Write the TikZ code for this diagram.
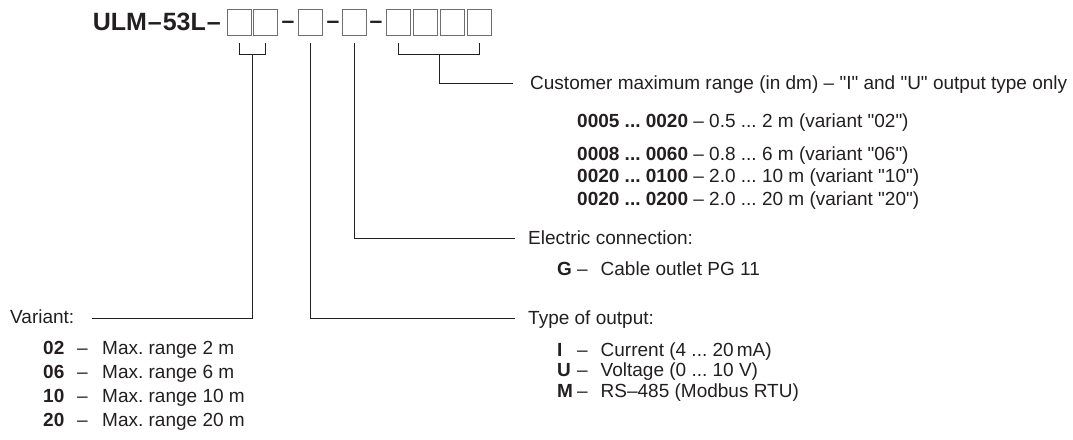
\documentclass[tikz,border=0pt]{standalone}
\usepackage{fontspec}
\usetikzlibrary{calc}
\setmainfont{Liberation Sans}
\definecolor{ink}{HTML}{231F20}
\definecolor{boxgray}{HTML}{6D6E71}
\newcommand{\qq}[1]{\textquotedbl#1\textquotedbl}
\newcommand{\rowA}[2]{\makebox[34pt][l]{\textbf{#1}}\makebox[25pt][l]{–}#2}
\newcommand{\rowB}[2]{\makebox[20pt][l]{\textbf{#1}}\makebox[23.5pt][l]{–}#2}
\frenchspacing
\begin{document}
\begin{tikzpicture}[x=1pt,y=-1pt,
  box/.style={draw=boxgray,line width=1pt,minimum width=24pt,minimum height=26pt,inner sep=0pt},
  lbl/.style={anchor=base west,inner sep=0pt,font=\fontsize{19}{22}\selectfont,text=ink},
  ttl/.style={anchor=base east,inner sep=0pt,font=\fontsize{25}{28}\selectfont\bfseries,text=ink},
  sep/.style={anchor=base,inner sep=0pt,font=\fontsize{23}{26}\selectfont\bfseries,text=ink},
  ln/.style={draw=ink,line width=1pt}]
\useasboundingbox (0,0) rectangle (1073,439);

% title and code boxes
\node[ttl] (title) at (221,30.5) {ULM\kern1pt–\kern1pt53L\kern1pt–};
\node[box] (b1) at (239,22.5) {};
\node[box] (b2) at (265.5,22.5) {};
\node[sep] (d1) at (288,28) {–};
\node[box] (b3) at (310.5,22.5) {};
\node[sep] (d2) at (333,28) {–};
\node[box] (b4) at (354.5,22.5) {};
\node[sep] (d3) at (376,28) {–};
\node[box] (b5) at (398.5,22.5) {};
\node[box] (b6) at (425.5,22.5) {};
\node[box] (b7) at (452.5,22.5) {};
\node[box] (b8) at (479.5,22.5) {};

% labels
\node[lbl] (cust) at (530,89) {Customer maximum range (in dm) – \qq{I} and \qq{U} output type only};
\node[lbl] (c1) at (577,127) {\textbf{0005 ... 0020} – 0.5 ... 2 m (variant \qq{02})};
\node[lbl] (c2) at (577,160) {\textbf{0008 ... 0060} – 0.8 ... 6 m (variant \qq{06})};
\node[lbl] (c3) at (577,182) {\textbf{0020 ... 0100} – 2.0 ... 10 m (variant \qq{10})};
\node[lbl] (c4) at (577,205) {\textbf{0020 ... 0200} – 2.0 ... 20 m (variant \qq{20})};

\node[lbl] (elec) at (528,244) {Electric connection:};
\node[lbl] (g) at (557,275) {\rowB{G}{Cable outlet PG 11}};

\node[lbl] (type) at (528,324) {Type of output:};
\node[lbl] (ti) at (557,356) {\rowB{I}{Current (4 ... 20\,mA)}};
\node[lbl] (tu) at (557,376.5) {\rowB{U}{Voltage (0 ... 10 V)}};
\node[lbl] (tm) at (557,397) {\rowB{M}{RS–485 (Modbus RTU)}};

\node[lbl] (var) at (10,323) {Variant:};
\node[lbl] (v1) at (43,354) {\rowA{02}{Max. range 2 m}};
\node[lbl] (v2) at (43,378) {\rowA{06}{Max. range 6 m}};
\node[lbl] (v3) at (43,402) {\rowA{10}{Max. range 10 m}};
\node[lbl] (v4) at (43,426) {\rowA{20}{Max. range 20 m}};

% connectors
\coordinate (vend) at (92,318);
\coordinate (tend) at (515,318);
\coordinate (eend) at (515,238);
\coordinate (cend) at (513,83);
\coordinate (k1) at ($(b1.south)+(0,7)$);
\coordinate (k2) at ($(b2.south)+(0,7)$);
\coordinate (k3) at ($(b1.south)!0.5!(b2.south)+(0,18.5)$);
\coordinate (k5) at ($(b5.south)+(0,7)$);
\coordinate (k8) at ($(b8.south)+(0,7)$);
\coordinate (k9) at ($(b5.south)!0.5!(b8.south)+(0,18.5)$);

\draw[ln] (k1) -- ++(0,11.5) -| (k2);
\draw[ln] (k3) |- (vend);
\draw[ln] ($(b3.south)+(0,7)$) |- (tend);
\draw[ln] ($(b4.south)+(0,7)$) |- (eend);
\draw[ln] (k5) -- ++(0,11.5) -| (k8);
\draw[ln] (k9) |- (cend);
\end{tikzpicture}
\end{document}
